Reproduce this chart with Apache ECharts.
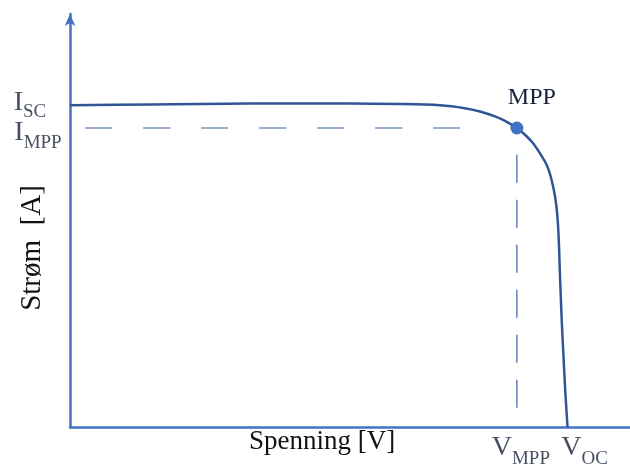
<!DOCTYPE html>
<html>
<head>
<meta charset="utf-8">
<script src="https://cdn.jsdelivr.net/npm/echarts@6/dist/echarts.min.js"></script>
<style>
  html, body { margin: 0; padding: 0; background: #ffffff; }
  #chart { width: 630px; height: 464px; }
</style>
</head>
<body>
<div id="chart"></div>
<script>
// I-V characteristic of a solar cell (relative units, 0-100 on both axes)
const voltage = [0, 14.3, 32.1, 50, 58.9, 66.1, 70.5, 73.2, 75.9, 78.0, 79.8, 81.3, 82.7, 83.9, 85.13, 85.71, 86.25, 86.66, 86.93, 87.11, 87.25, 87.36, 87.46, 87.63, 87.82, 88.11, 88.43, 88.84];
const current = [77.9, 78.1, 78.3, 78.3, 78.2, 77.9, 77.2, 76.4, 75.2, 73.9, 72.4, 70.7, 68.7, 66.3, 63.44, 61.26, 58.35, 55.45, 52.54, 49.64, 46.25, 42.37, 38.01, 31.96, 25.42, 17.43, 8.96, 0];

// characteristic points
const iSc = 77.9;
const vOc = 88.84;
const vMpp = 79.8;
const iMpp = 72.4;

// dashed guide lines to the maximum power point
const guideHV = [2.7, 71.5];
const guideVI = [65.9, 1.7];

// annotation texts
const mppLabel = 'MPP';
const currentSubs = ['SC', 'MPP'];
const voltageSubs = ['MPP', 'OC'];
const xTitle = 'Spenning [V]';
const yTitle = 'Strøm  [A]';

const axisBlue = '#4472C4';
const curveBlue = '#2F5597';
const textNavy = '#18203a';
const serif = 'Liberation Serif';

// main letter sits higher than its subscript by the bottom padding
function richFor(drop) {
  return {
    m: { fontSize: 28, fontFamily: serif, color: textNavy, lineHeight: 30, verticalAlign: 'bottom', padding: [0, 0, drop, 0] },
    s: { fontSize: 19, fontFamily: serif, color: textNavy, verticalAlign: 'bottom' }
  };
}

function sub(main, s, offset, drop) {
  return { formatter: '{m|' + main + '}{s|' + s + '}', offset: offset, rich: richFor(drop) };
}

const chart = echarts.init(document.getElementById('chart'), null, { renderer: 'canvas' });

chart.setOption({
  animation: false,
  backgroundColor: '#ffffff',
  grid: { left: 70, right: 0, top: 14, bottom: 37, outerBoundsMode: 'none' },
  xAxis: {
    type: 'value', min: 0, max: 100,
    axisLine: { show: true, lineStyle: { color: axisBlue, width: 2.5 } },
    axisTick: { show: false }, axisLabel: { show: false }, splitLine: { show: false }
  },
  yAxis: {
    type: 'value', min: 0, max: 100,
    axisLine: {
      show: true, symbol: ['none', 'arrow'], symbolSize: [8, 12], symbolOffset: [0, 0],
      lineStyle: { color: axisBlue, width: 2.5 }
    },
    axisTick: { show: false }, axisLabel: { show: false }, splitLine: { show: false }
  },
  series: [
    {
      name: 'guideH', type: 'line', silent: true, symbol: 'none',
      data: guideHV.map(v => [v, iMpp]),
      lineStyle: { color: '#3a5fa5', width: 1.2, type: [27, 31] }
    },
    {
      name: 'guideV', type: 'line', silent: true, symbol: 'none',
      data: guideVI.map(i => [vMpp, i]),
      lineStyle: { color: '#3a5fa5', width: 1.2, type: [28, 17] }
    },
    {
      name: 'IV', type: 'line', symbol: 'none', smooth: 0.3,
      data: voltage.map((v, k) => [v, current[k]]),
      lineStyle: { color: curveBlue, width: 2.5 }
    },
    {
      name: 'MPP', type: 'scatter', symbol: 'circle', symbolSize: 13,
      itemStyle: { color: axisBlue, opacity: 1 },
      data: [[vMpp, iMpp]],
      label: {
        show: true, position: 'inside', offset: [15, -30],
        formatter: mppLabel, fontFamily: serif, fontSize: 24, color: textNavy
      },
      z: 5
    },
    {
      name: 'annotations', type: 'scatter', symbolSize: 0, silent: true,
      label: { show: true, position: 'inside' },
      data: [
        { value: [0, iSc], label: sub('I', currentSubs[0], [-40, 1], 5) },
        { value: [0, iMpp], label: sub('I', currentSubs[1], [-32, 10], 6) },
        { value: [vMpp, 0], label: sub('V', voltageSubs[0], [4, 27], 7) },
        { value: [vOc, 0], label: sub('V', voltageSubs[1], [17, 27], 7) }
      ]
    }
  ],
  graphic: [
    {
      type: 'text', x: 322, y: 442,
      style: { text: xTitle, font: '27px "Liberation Serif"', fill: '#111111', align: 'center', verticalAlign: 'middle' }
    },
    {
      type: 'text', x: 32, y: 248, rotation: Math.PI / 2,
      style: { text: yTitle, font: '29px "Liberation Serif"', fill: '#111111', align: 'center', verticalAlign: 'middle' }
    }
  ]
});
</script>
</body>
</html>
